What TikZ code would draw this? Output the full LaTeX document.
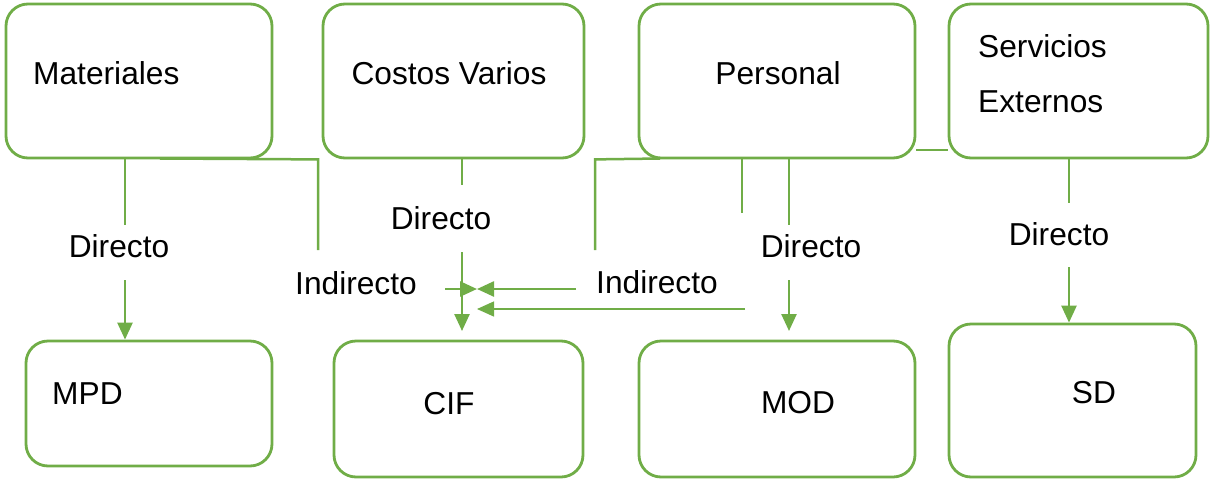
\documentclass[tikz,border=0pt]{standalone}
\usepackage{fontspec}
\setmainfont{Liberation Sans}
\usetikzlibrary{arrows.meta}
\definecolor{grn}{HTML}{70AD47}
\begin{document}
\begin{tikzpicture}[x=1pt,y=-1pt,
  box/.style={draw=grn,line width=2.8pt,rounded corners=22pt,inner sep=0pt},
  txt/.style={inner sep=0pt,font=\fontsize{31.7}{38}\selectfont},
  ln/.style={draw=grn,line width=2.5pt},
  thinln/.style={draw=grn,line width=1.4pt},
  tip/.style={-{Triangle[width=15pt,length=17pt]}},
]
\useasboundingbox (0,0) rectangle (1211,480);
% top boxes
\node[box,minimum width=266pt,minimum height=154pt] (mat) at (139,81) {};
\node[box,minimum width=261pt,minimum height=154pt] (cv)  at (453.5,81) {};
\node[box,minimum width=276pt,minimum height=154pt] (per) at (777,81) {};
\node[box,minimum width=259pt,minimum height=154pt] (ser) at (1078.5,81) {};
% bottom boxes
\node[box,minimum width=246pt,minimum height=125pt] (mpd) at (149,403.5) {};
\node[box,minimum width=249pt,minimum height=136pt] (cif) at (458.5,409) {};
\node[box,minimum width=276pt,minimum height=136pt] (mod) at (777,409) {};
\node[box,minimum width=247pt,minimum height=153pt] (sd)  at (1072.5,400.5) {};
% box texts
\node[txt,anchor=west] (tmat) at (33,73) {Materiales};
\node[txt] (tcv) at (449,73) {Costos Varios};
\node[txt] (tper) at (778,73) {Personal};
\node[txt,anchor=west,align=left,font=\fontsize{31.7}{55}\selectfont] (tser) at (978,73.5) {Servicios\\Externos};
\node[txt,anchor=west] (tmpd) at (52,394) {MPD};
\node[txt] (tcif) at (449,404) {CIF};
\node[txt] (tmod) at (798,403) {MOD};
\node[txt] (tsd) at (1094,393) {SD};
% connector labels
\node[txt] (d1) at (119,246) {Directo};
\node[txt] (d2) at (441,218) {Directo};
\node[txt] (d3) at (811,246) {Directo};
\node[txt] (d4) at (1059,234) {Directo};
\node[txt] (i1) at (356,283) {Indirecto};
\node[txt] (i2) at (657,282) {Indirecto};
% helper coordinates
\coordinate (xa) at (125,0);
\coordinate (xb) at (318,0);
\coordinate (xc) at (462,0);
\coordinate (xd) at (595,0);
\coordinate (xe) at (742,0);
\coordinate (xf) at (789,0);
\coordinate (xg) at (1069,0);
\coordinate (meet) at (477,289);
\coordinate (meet2) at (477,309);
% Materiales -> MPD (Directo)
\draw[ln] (xa |- mat.south) -- (125,225);
\draw[ln,tip] (125,280) -- (xa |- mpd.north);
% Materiales -> CIF (Indirecto)
\draw[ln] (160,158.5) -- (xb |- mat.south) -- (318,250);
\draw[ln,tip] (445,289) -- (meet);
% Costos Varios -> CIF (Directo)
\draw[ln] (xc |- cv.south) -- (462,185);
\draw[ln,tip] (462,252) -- (462,331);
% Personal -> CIF (Indirecto)
\draw[ln] (595,250) -- (xd |- per.south) -- (660,158.5);
\draw[ln,tip] (576,289) -- (meet);
\draw[ln] (xe |- per.south) -- (742,213);
\draw[thinln,tip] (745,309) -- (meet2);
% Personal -> MOD (Directo)
\draw[ln] (xf |- per.south) -- (789,225);
\draw[ln,tip] (789,280) -- (789,331);
% Personal -- Servicios
\draw[ln] (per.east |- 0,150) -- (ser.west |- 0,150);
% Servicios -> SD (Directo)
\draw[ln] (xg |- ser.south) -- (1069,203);
\draw[ln,tip] (1069,267) -- (xg |- sd.north);
\end{tikzpicture}
\end{document}
